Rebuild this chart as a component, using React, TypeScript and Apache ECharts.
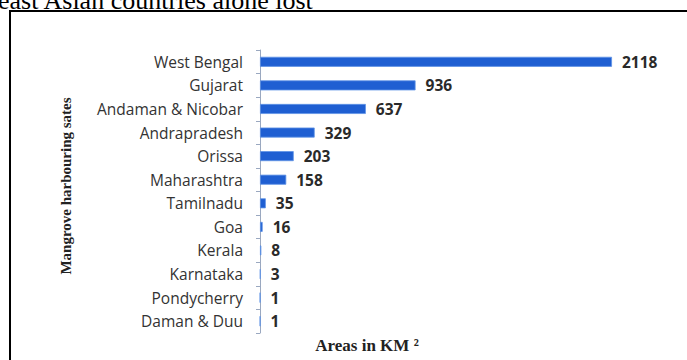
import React, { useEffect, useRef } from "react";
import * as echarts from "echarts";

// Mangrove cover by state (km²)
const states = [
  "West Bengal",
  "Gujarat",
  "Andaman & Nicobar",
  "Andrapradesh",
  "Orissa",
  "Maharashtra",
  "Tamilnadu",
  "Goa",
  "Kerala",
  "Karnataka",
  "Pondycherry",
  "Daman & Duu",
];
const areas = [2118, 936, 637, 329, 203, 158, 35, 16, 8, 3, 1, 1];

const yTitle = "Mangrove harbouring sates";
const xTitle = "Areas in KM ²";
const headline = "east Asian countries alone lost";

export default function App() {
  const ref = useRef<HTMLDivElement>(null);

  useEffect(() => {
    if (!ref.current) return;
    const chart = echarts.init(ref.current, null, { renderer: "svg" });
    chart.setOption({
      animation: false,
      backgroundColor: "#ffffff",
      grid: { left: 260, top: 50, width: 352, height: 283, containLabel: false },
      xAxis: {
        type: "value",
        min: 0,
        max: 2118,
        show: false,
      },
      yAxis: {
        type: "category",
        data: states,
        inverse: true,
        axisLine: { show: true, lineStyle: { color: "#9aa8c0", width: 1 } },
        axisTick: { show: true, length: 4, lineStyle: { color: "#9aa8c0" } },
        axisLabel: {
          color: "#333333",
          fontFamily: "Open Sans",
          fontSize: 15.5,
          margin: 17,
        },
      },
      series: [
        {
          type: "bar",
          data: areas,
          barWidth: 10,
          itemStyle: {
            color: "#1f5fd2",
            borderColor: "#5f93e6",
            borderWidth: 0.8,
          },
          label: {
            show: true,
            position: "right",
            distance: 10,
            color: "#2a2a2a",
            fontFamily: "Open Sans",
            fontWeight: "bold",
            fontSize: 15.5,
          },
        },
      ],
      graphic: [
        {
          type: "text",
          left: -2,
          top: -13,
          style: {
            text: headline,
            font: "26px 'Liberation Serif'",
            fill: "#000000",
          },
        },
        {
          type: "rect",
          shape: { x: 10, y: 11, width: 700, height: 360 },
          style: { fill: "none", stroke: "#000000", lineWidth: 2 },
          silent: true,
        },
        {
          type: "text",
          x: 66,
          y: 186,
          rotation: Math.PI / 2,
          style: {
            text: yTitle,
            font: "bold 15px 'Liberation Serif'",
            fill: "#222222",
            align: "center",
            verticalAlign: "middle",
          },
        },
        {
          type: "text",
          x: 367,
          y: 345,
          style: {
            text: xTitle,
            font: "bold 17px 'Liberation Serif'",
            fill: "#222222",
            align: "center",
            verticalAlign: "middle",
          },
        },
      ],
    });
    return () => chart.dispose();
  }, []);

  return (
    <div
      ref={ref}
      style={{ position: "fixed", left: 0, top: 0, width: 687, height: 360 }}
    />
  );
}
